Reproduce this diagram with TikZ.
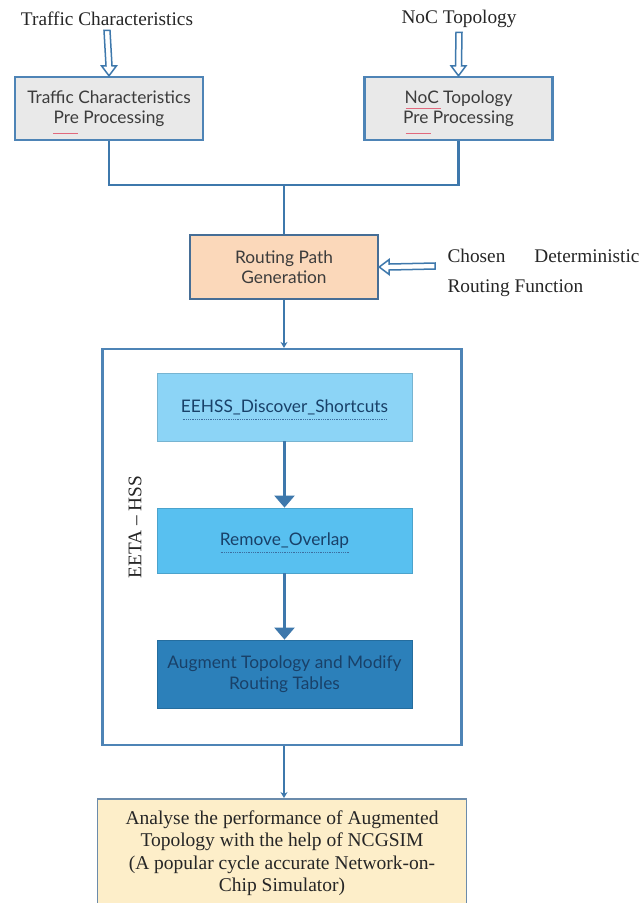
\documentclass[tikz,border=0pt]{standalone}
\usepackage{fontspec}
\setmainfont{Liberation Serif}
\newfontfamily\latofont{Lato}
\usetikzlibrary{arrows.meta,calc}
\definecolor{bordc}{RGB}{78,132,182}
\definecolor{darkbord}{RGB}{70,110,150}
\definecolor{connc}{RGB}{62,120,172}
\definecolor{grayfill}{RGB}{233,233,233}
\definecolor{peach}{RGB}{251,216,186}
\definecolor{lblue}{RGB}{140,212,246}
\definecolor{mblue}{RGB}{88,192,240}
\definecolor{dblue}{RGB}{44,128,186}
\definecolor{cream}{RGB}{253,238,201}
\definecolor{boxtext}{RGB}{60,60,60}
\definecolor{navytext}{RGB}{25,65,105}
\definecolor{squig}{RGB}{225,105,125}
\definecolor{squigb}{RGB}{60,110,160}
\begin{document}
\begin{tikzpicture}[x=1pt,y=-1pt,
  serif/.style={font=\fontsize{19.3}{23}\selectfont, text=black!85},
  procbox/.style={draw=#1, line width=2.4pt, inner sep=0pt, align=center,
     font=\latofont\fontsize{17.3}{20.5}\selectfont},
  conn/.style={draw=connc, line width=2.4pt},
  bigtip/.style={-{Triangle[length=12pt,width=20pt]}},
  smalltip/.style={-{Stealth[length=6pt,width=7pt]}},
  hollow/.style={draw=connc, line width=1.5pt, fill=white, line join=miter},
  uline/.style={draw=squig, line width=0.9pt},
  ulineb/.style={draw=squigb, line width=0.8pt, densely dotted}
]
\useasboundingbox (0,0) rectangle (638,903);
\fill[white] (0,0) rectangle (638,903);

% top labels
\node[serif] (tc) at (107,19) {Traffic Characteristics};
\node[serif] (nt) at (459,19) {NoC Topology};

% top boxes
\node[procbox=bordc, fill=grayfill, text=boxtext, minimum width=188pt, minimum height=63pt]
  (b1) at (109,108.5) {Traffic Characteristics\\Pre Processing};
\node[procbox=bordc, fill=grayfill, text=boxtext, minimum width=188pt, minimum height=63pt]
  (b2) at (458.5,108.5) {NoC Topology\\Pre Processing};
\draw[uline] ($(b1.center)+(-56,25)$) -- ($(b1.center)+(-31,25)$);
\draw[uline] ($(b2.center)+(-53,0)$) -- ($(b2.center)+(-18,0)$);
\draw[uline] ($(b2.center)+(-53,25)$) -- ($(b2.center)+(-28,25)$);

% hollow arrows down
\draw[hollow] ($(tc.south)+(-3,1)$) -- ($(b1.north)+(-3,-10)$) -- ($(b1.north)+(-7.5,-10)$)
  -- (b1.north) -- ($(b1.north)+(7.5,-10)$) -- ($(b1.north)+(3,-10)$) -- ($(tc.south)+(3,1)$) -- cycle;
\draw[hollow] ($(nt.south)+(-3,1)$) -- ($(b2.north)+(-3,-10)$) -- ($(b2.north)+(-7.5,-10)$)
  -- (b2.north) -- ($(b2.north)+(7.5,-10)$) -- ($(b2.north)+(3,-10)$) -- ($(nt.south)+(3,1)$) -- cycle;

% routing path generation
\node[procbox=darkbord, fill=peach, text=boxtext, minimum width=188pt, minimum height=64pt]
  (rp) at (284,267) {Routing Path\\Generation};

\coordinate (j) at ($(rp.north)+(0,-49)$);
\draw[conn] (b1.south) |- (j) -| (b2.south);
\draw[conn] (j) -- (rp.north);

% chosen deterministic routing function
\node[serif, anchor=west] (cd) at (444,256) {Chosen\hspace{29pt}Deterministic};
\node[serif, anchor=west] (rf) at (444,288) {Routing Function};
\coordinate (cf) at ($(rp.east)+(56,-1)$);
\draw[hollow] ($(cf)+(0,-3)$) -- ($(rp.east)+(10,-3)$) -- ($(rp.east)+(10,-7.5)$)
  -- (rp.east) -- ($(rp.east)+(10,7.5)$) -- ($(rp.east)+(10,3)$) -- ($(cf)+(0,3)$) -- cycle;

% big EETA-HSS box
\node[draw=bordc, line width=2.2pt, fill=white, minimum width=359pt, minimum height=396pt, inner sep=0pt]
  (big) at (282,547) {};
\draw[conn, smalltip] (rp.south) -- (big.north -| rp.south);

\node[serif, rotate=90] (lab) at (135,527) {EETA -- HSS};

% inner boxes
\node[procbox=lblue!85!black, fill=lblue, text=navytext, minimum width=255pt, minimum height=68pt, line width=0.8pt]
  (e1) at (284.5,407) {EEHSS\_Discover\_Shortcuts};
\node[procbox=mblue!85!black, fill=mblue, text=navytext, minimum width=255pt, minimum height=65pt, line width=0.8pt]
  (e2) at (284.5,540.5) {Remove\_Overlap};
\node[procbox=dblue!85!black, fill=dblue, text=navytext, minimum width=255pt, minimum height=68pt, line width=0.8pt]
  (e3) at (284.5,674) {Augment Topology and Modify\\Routing Tables};
\draw[ulineb] ($(e1.center)+(-102,12)$) -- ($(e1.center)+(102,12)$);
\draw[ulineb] ($(e2.center)+(-64,12)$) -- ($(e2.center)+(64,12)$);

\draw[conn, bigtip] (e1.south) -- (e2.north);
\draw[conn, bigtip] (e2.south) -- (e3.north);

% analyse box
\node[draw=darkbord!80, line width=1.8pt, fill=cream, minimum width=369pt, minimum height=120pt,
  inner sep=0pt, anchor=north] (an) at (282,798) {};
\node[serif, align=center, anchor=north, font=\fontsize{19.5}{22.5}\selectfont] (antext) at (282,807)
  {Analyse the performance of Augmented\\Topology with the help of NCGSIM\\(A popular cycle accurate Network-on-\\Chip Simulator)};
\draw[conn, smalltip] (big.south -| rp.south) -- (an.north -| rp.south);
\end{tikzpicture}
\end{document}
